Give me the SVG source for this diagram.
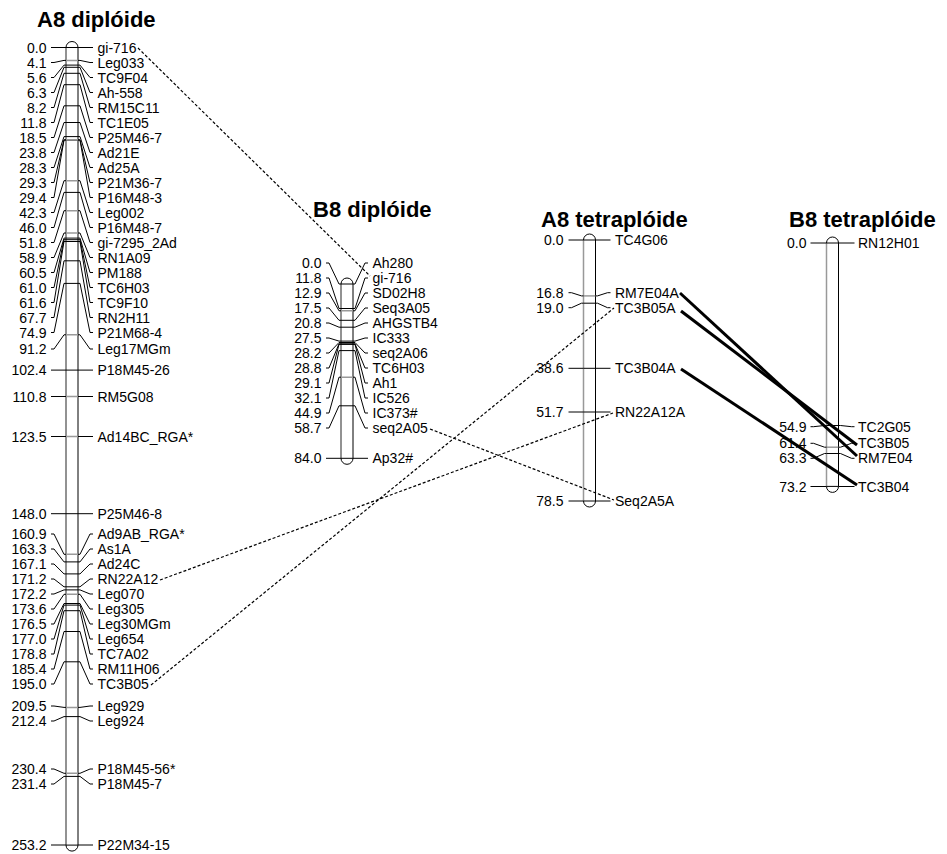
<svg xmlns="http://www.w3.org/2000/svg" width="947" height="854" viewBox="0 0 947 854">
<style>
text{font-family:"Liberation Sans",Arial,sans-serif;font-size:14px;fill:#000}
.n{text-anchor:end}
.title{font-size:22px;font-weight:bold}
.chr{fill:#fff;stroke:#000;stroke-width:1}
.edge{fill:none;stroke:#999;stroke-width:1.5}
.tk{fill:none;stroke:#000;stroke-width:1}
.tg{fill:none;stroke:#999;stroke-width:1.5}
.ld{fill:none;stroke:#000;stroke-width:1}
.dash{fill:none;stroke:#000;stroke-width:1.2;stroke-dasharray:3 2}
.solid{fill:none;stroke:#000;stroke-width:3}
</style>
<rect width="947" height="854" fill="#fff"/>

<g id="chr-A8-diploide">
<text class="title" x="37" y="27">A8 diplóide</text>
<rect class="chr" x="66" y="41.5" width="12" height="809.6" rx="6"/>
<path class="edge" d="M66,47.5V845"/>
<path class="tk" d="M66,47.5H78M66,65.1H78M66,67.3H78M66,73.3H78M66,84.7H78M66,105.8H78M66,122.5H78M66,136.6H78M66,140.1H78M66,192.4H78M66,238.1H78M66,239.7H78M66,241.5H78M66,260.8H78M66,283.4H78M66,370.1H78M66,513.7H78M66,561.9H78M66,573.9H78M66,586.8H78M66,589.9H78M66,603.5H78M66,605.1H78M66,610.7H78M66,631.5H78M66,661.8H78M66,716.6H78M66,776.4H78M66,845.1H78"/>
<path class="tg" d="M66,60.4H78M66,139.8H78M66,180.7H78M66,210.7H78M66,233H78M66,334.8H78M66,396.5H78M66,436.5H78M66,554.3H78M66,594.3H78M66,707.4H78M66,773.3H78"/>
<path class="ld" d="M51,47.5H66M78,47.5H93
M51,62.5H54L64,60.4H66M78,60.4H80L90,62.5H93
M51,77.5H54L64,65.1H66M78,65.1H80L90,77.5H93
M51,92.5H54L64,67.3H66M78,67.3H80L90,92.5H93
M51,107.5H54L64,73.3H66M78,73.3H80L90,107.5H93
M51,122.5H54L64,84.7H66M78,84.7H80L90,122.5H93
M51,137.5H54L64,105.8H66M78,105.8H80L90,137.5H93
M51,152.5H54L64,122.5H66M78,122.5H80L90,152.5H93
M51,167.5H54L64,136.6H66M78,136.6H80L90,167.5H93
M51,182.5H54L64,139.8H66M78,139.8H80L90,182.5H93
M51,197.5H54L64,140.1H66M78,140.1H80L90,197.5H93
M51,212.5H54L64,180.7H66M78,180.7H80L90,212.5H93
M51,227.5H54L64,192.4H66M78,192.4H80L90,227.5H93
M51,242.5H54L64,210.7H66M78,210.7H80L90,242.5H93
M51,257.5H54L64,233H66M78,233H80L90,257.5H93
M51,272.5H54L64,238.1H66M78,238.1H80L90,272.5H93
M51,287.5H54L64,239.7H66M78,239.7H80L90,287.5H93
M51,302.5H54L64,241.5H66M78,241.5H80L90,302.5H93
M51,317.5H54L64,260.8H66M78,260.8H80L90,317.5H93
M51,332.5H54L64,283.4H66M78,283.4H80L90,332.5H93
M51,349H54L64,334.8H66M78,334.8H80L90,349H93
M51,370.1H66M78,370.1H93
M51,396.5H66M78,396.5H93
M51,436.5H66M78,436.5H93
M51,513.7H66M78,513.7H93
M51,534H54L64,554.3H66M78,554.3H80L90,534H93
M51,549H54L64,561.9H66M78,561.9H80L90,549H93
M51,564H54L64,573.9H66M78,573.9H80L90,564H93
M51,579H54L64,586.8H66M78,586.8H80L90,579H93
M51,594H54L64,589.9H66M78,589.9H80L90,594H93
M51,609H54L64,594.3H66M78,594.3H80L90,609H93
M51,624H54L64,603.5H66M78,603.5H80L90,624H93
M51,639H54L64,605.1H66M78,605.1H80L90,639H93
M51,654H54L64,610.7H66M78,610.7H80L90,654H93
M51,669H54L64,631.5H66M78,631.5H80L90,669H93
M51,684H54L64,661.8H66M78,661.8H80L90,684H93
M51,706H54L64,707.4H66M78,707.4H80L90,706H93
M51,721H54L64,716.6H66M78,716.6H80L90,721H93
M51,769H54L64,773.3H66M78,773.3H80L90,769H93
M51,784H54L64,776.4H66M78,776.4H80L90,784H93
M51,845H66M78,845H93"/>
<g class="nums">
<text class="n" x="46.5" y="52.5">0.0</text>
<text class="n" x="46.5" y="67.5">4.1</text>
<text class="n" x="46.5" y="82.5">5.6</text>
<text class="n" x="46.5" y="97.5">6.3</text>
<text class="n" x="46.5" y="112.5">8.2</text>
<text class="n" x="46.5" y="127.5">11.8</text>
<text class="n" x="46.5" y="142.5">18.5</text>
<text class="n" x="46.5" y="157.5">23.8</text>
<text class="n" x="46.5" y="172.5">28.3</text>
<text class="n" x="46.5" y="187.5">29.3</text>
<text class="n" x="46.5" y="202.5">29.4</text>
<text class="n" x="46.5" y="217.5">42.3</text>
<text class="n" x="46.5" y="232.5">46.0</text>
<text class="n" x="46.5" y="247.5">51.8</text>
<text class="n" x="46.5" y="262.5">58.9</text>
<text class="n" x="46.5" y="277.5">60.5</text>
<text class="n" x="46.5" y="292.5">61.0</text>
<text class="n" x="46.5" y="307.5">61.6</text>
<text class="n" x="46.5" y="322.5">67.7</text>
<text class="n" x="46.5" y="337.5">74.9</text>
<text class="n" x="46.5" y="354">91.2</text>
<text class="n" x="46.5" y="375.1">102.4</text>
<text class="n" x="46.5" y="401.5">110.8</text>
<text class="n" x="46.5" y="441.5">123.5</text>
<text class="n" x="46.5" y="518.7">148.0</text>
<text class="n" x="46.5" y="539">160.9</text>
<text class="n" x="46.5" y="554">163.3</text>
<text class="n" x="46.5" y="569">167.1</text>
<text class="n" x="46.5" y="584">171.2</text>
<text class="n" x="46.5" y="599">172.2</text>
<text class="n" x="46.5" y="614">173.6</text>
<text class="n" x="46.5" y="629">176.5</text>
<text class="n" x="46.5" y="644">177.0</text>
<text class="n" x="46.5" y="659">178.8</text>
<text class="n" x="46.5" y="674">185.4</text>
<text class="n" x="46.5" y="689">195.0</text>
<text class="n" x="46.5" y="711">209.5</text>
<text class="n" x="46.5" y="726">212.4</text>
<text class="n" x="46.5" y="774">230.4</text>
<text class="n" x="46.5" y="789">231.4</text>
<text class="n" x="46.5" y="850">253.2</text>
</g>
<g class="names">
<text x="97.5" y="52.5">gi-716</text>
<text x="97.5" y="67.5">Leg033</text>
<text x="97.5" y="82.5">TC9F04</text>
<text x="97.5" y="97.5">Ah-558</text>
<text x="97.5" y="112.5">RM15C11</text>
<text x="97.5" y="127.5">TC1E05</text>
<text x="97.5" y="142.5">P25M46-7</text>
<text x="97.5" y="157.5">Ad21E</text>
<text x="97.5" y="172.5">Ad25A</text>
<text x="97.5" y="187.5">P21M36-7</text>
<text x="97.5" y="202.5">P16M48-3</text>
<text x="97.5" y="217.5">Leg002</text>
<text x="97.5" y="232.5">P16M48-7</text>
<text x="97.5" y="247.5">gi-7295_2Ad</text>
<text x="97.5" y="262.5">RN1A09</text>
<text x="97.5" y="277.5">PM188</text>
<text x="97.5" y="292.5">TC6H03</text>
<text x="97.5" y="307.5">TC9F10</text>
<text x="97.5" y="322.5">RN2H11</text>
<text x="97.5" y="337.5">P21M68-4</text>
<text x="97.5" y="354">Leg17MGm</text>
<text x="97.5" y="375.1">P18M45-26</text>
<text x="97.5" y="401.5">RM5G08</text>
<text x="97.5" y="441.5">Ad14BC_RGA*</text>
<text x="97.5" y="518.7">P25M46-8</text>
<text x="97.5" y="539">Ad9AB_RGA*</text>
<text x="97.5" y="554">As1A</text>
<text x="97.5" y="569">Ad24C</text>
<text x="97.5" y="584">RN22A12</text>
<text x="97.5" y="599">Leg070</text>
<text x="97.5" y="614">Leg305</text>
<text x="97.5" y="629">Leg30MGm</text>
<text x="97.5" y="644">Leg654</text>
<text x="97.5" y="659">TC7A02</text>
<text x="97.5" y="674">RM11H06</text>
<text x="97.5" y="689">TC3B05</text>
<text x="97.5" y="711">Leg929</text>
<text x="97.5" y="726">Leg924</text>
<text x="97.5" y="774">P18M45-56*</text>
<text x="97.5" y="789">P18M45-7</text>
<text x="97.5" y="850">P22M34-15</text>
</g>
</g>

<g id="chr-B8-diploide">
<text class="title" x="313" y="217">B8 diplóide</text>
<rect class="chr" x="341" y="278" width="12" height="186.3" rx="6"/>
<path class="edge" d="M341,284V458.3"/>
<path class="tk" d="M341,284H353M341,308.5H353M341,320.3H353M341,327.2H353M341,341.1H353M341,342.5H353M341,343.8H353M341,344.4H353M341,350.6H353M341,405.8H353M341,458.3H353"/>
<path class="tg" d="M341,310.8H353M341,377.2H353"/>
<path class="ld" d="M326,263H329L339,284H341M353,284H355L365,263H368
M326,278H329L339,308.5H341M353,308.5H355L365,278H368
M326,293H329L339,310.8H341M353,310.8H355L365,293H368
M326,308H329L339,320.3H341M353,320.3H355L365,308H368
M326,323H329L339,327.2H341M353,327.2H355L365,323H368
M326,338H329L339,341.1H341M353,341.1H355L365,338H368
M326,353H329L339,342.5H341M353,342.5H355L365,353H368
M326,368H329L339,343.8H341M353,343.8H355L365,368H368
M326,383H329L339,344.4H341M353,344.4H355L365,383H368
M326,398H329L339,350.6H341M353,350.6H355L365,398H368
M326,413H329L339,377.2H341M353,377.2H355L365,413H368
M326,428H329L339,405.8H341M353,405.8H355L365,428H368
M326,458.3H341M353,458.3H368"/>
<text class="n" x="321.5" y="268">0.0</text>
<text class="n" x="321.5" y="283">11.8</text>
<text class="n" x="321.5" y="298">12.9</text>
<text class="n" x="321.5" y="313">17.5</text>
<text class="n" x="321.5" y="328">20.8</text>
<text class="n" x="321.5" y="343">27.5</text>
<text class="n" x="321.5" y="358">28.2</text>
<text class="n" x="321.5" y="373">28.8</text>
<text class="n" x="321.5" y="388">29.1</text>
<text class="n" x="321.5" y="403">32.1</text>
<text class="n" x="321.5" y="418">44.9</text>
<text class="n" x="321.5" y="433">58.7</text>
<text class="n" x="321.5" y="463.3">84.0</text>
<text x="372.5" y="268">Ah280</text>
<text x="372.5" y="283">gi-716</text>
<text x="372.5" y="298">SD02H8</text>
<text x="372.5" y="313">Seq3A05</text>
<text x="372.5" y="328">AHGSTB4</text>
<text x="372.5" y="343">IC333</text>
<text x="372.5" y="358">seq2A06</text>
<text x="372.5" y="373">TC6H03</text>
<text x="372.5" y="388">Ah1</text>
<text x="372.5" y="403">IC526</text>
<text x="372.5" y="418">IC373#</text>
<text x="372.5" y="433">seq2A05</text>
<text x="372.5" y="463.3">Ap32#</text>
</g>

<g id="chr-A8-tetraploide">
<text class="title" x="541" y="227">A8 tetraplóide</text>
<rect class="chr" x="583.5" y="234" width="12" height="273" rx="6"/>
<path class="edge" d="M583.5,240V501"/>
<path class="tk" d="M583.5,240H595.5M583.5,303.2H595.5M583.5,368.3H595.5M583.5,412H595.5M583.5,501H595.5"/>
<path class="tg" d="M583.5,295.9H595.5"/>
<path class="ld" d="M568.5,240H583.5M595.5,240H610.5
M568.5,292.7H571.5L581.5,295.9H583.5M595.5,295.9H597.5L607.5,292.7H610.5
M568.5,307.7H571.5L581.5,303.2H583.5M595.5,303.2H597.5L607.5,307.7H610.5
M568.5,368.3H583.5M595.5,368.3H610.5
M568.5,412H583.5M595.5,412H610.5
M568.5,501H583.5M595.5,501H610.5"/>
<text class="n" x="563.5" y="245">0.0</text>
<text class="n" x="563.5" y="297.7">16.8</text>
<text class="n" x="563.5" y="312.7">19.0</text>
<text class="n" x="563.5" y="373.3">38.6</text>
<text class="n" x="563.5" y="417">51.7</text>
<text class="n" x="563.5" y="506">78.5</text>
<text x="615" y="245">TC4G06</text>
<text x="615" y="297.7">RM7E04A</text>
<text x="615" y="312.7">TC3B05A</text>
<text x="615" y="373.3">TC3B04A</text>
<text x="615" y="417">RN22A12A</text>
<text x="615" y="506">Seq2A5A</text>
</g>

<g id="chr-B8-tetraploide">
<text class="title" x="789" y="227">B8 tetraplóide</text>
<rect class="chr" x="826.5" y="237" width="12" height="255.4" rx="6"/>
<path class="edge" d="M826.5,243V486.4"/>
<path class="tk" d="M826.5,243H838.5M826.5,425.5H838.5M826.5,453.5H838.5M826.5,486.4H838.5"/>
<path class="tg" d="M826.5,447.2H838.5"/>
<path class="ld" d="M810.5,243H826.5M838.5,243H854.5
M810.5,426.7H813.5L824.5,425.5H826.5M838.5,425.5H840.5L851.5,426.7H854.5
M810.5,443.3H813.5L824.5,447.2H826.5M838.5,447.2H840.5L851.5,443.3H854.5
M810.5,458.3H813.5L824.5,453.5H826.5M838.5,453.5H840.5L851.5,458.3H854.5
M810.5,486.5H826.5M838.5,486.5H854.5"/>
<text class="n" x="806.5" y="248">0.0</text>
<text class="n" x="806.5" y="431.7">54.9</text>
<text class="n" x="806.5" y="448.3">61.4</text>
<text class="n" x="806.5" y="463.3">63.3</text>
<text class="n" x="806.5" y="491.5">73.2</text>
<text x="858" y="248">RN12H01</text>
<text x="858" y="431.7">TC2G05</text>
<text x="858" y="448.3">TC3B05</text>
<text x="858" y="463.3">RM7E04</text>
<text x="858" y="491.5">TC3B04</text>
</g>

<g id="connectors">
<path class="dash" d="M138,48L370,276"/>
<path class="dash" d="M160,580L613,413"/>
<path class="dash" d="M151,685L614,308"/>
<path class="dash" d="M430,429L614,500"/>
<path class="solid" d="M680,293L857,456"/>
<path class="solid" d="M681,311L857,445"/>
<path class="solid" d="M681,369L857,485"/>
</g>
</svg>
